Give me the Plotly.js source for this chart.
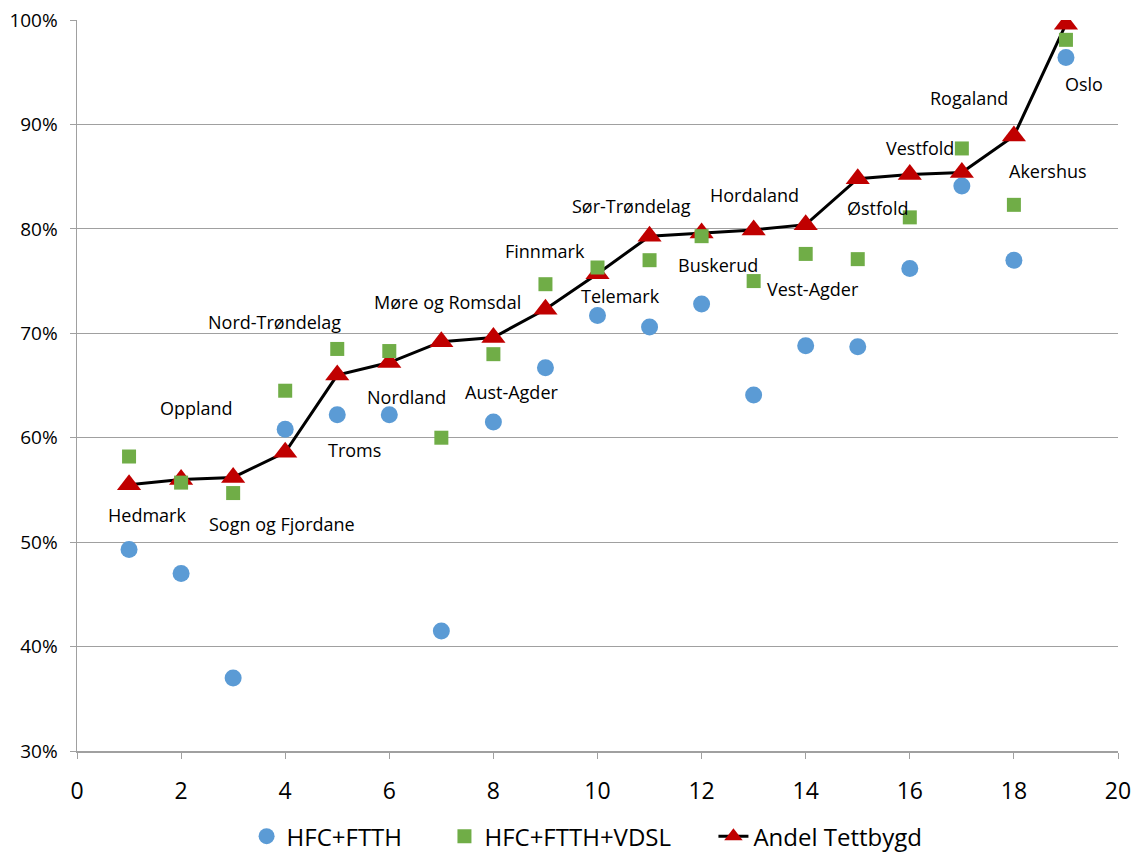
<!DOCTYPE html>
<html>
<head>
<meta charset="utf-8">
<script src="https://cdn.plot.ly/plotly-3.0.1.min.js"></script>
<style>
  html, body { margin: 0; padding: 0; background: #ffffff; }
  #chart { width: 1136px; height: 852px; }
</style>
</head>
<body>
<div id="chart"></div>
<script>
// County index (x) and coverage shares in percent
const counties = ["Hedmark", "Oppland", "Sogn og Fjordane", "Nord-Trøndelag", "Troms", "Nordland",
  "Møre og Romsdal", "Aust-Agder", "Finnmark", "Telemark", "Sør-Trøndelag", "Buskerud",
  "Hordaland", "Vest-Agder", "Østfold", "Vestfold", "Rogaland", "Akershus", "Oslo"];
const xIndex = [1, 2, 3, 4, 5, 6, 7, 8, 9, 10, 11, 12, 13, 14, 15, 16, 17, 18, 19];
const hfcFtth = [49.3, 47.0, 37.0, 60.8, 62.2, 62.2, 41.5, 61.5, 66.7, 71.7,
  70.6, 72.8, 64.1, 68.8, 68.7, 76.2, 84.1, 77.0, 96.4];
const hfcFtthVdsl = [58.2, 55.7, 54.7, 64.5, 68.5, 68.3, 60.0, 68.0, 74.7, 76.3,
  77.0, 79.3, 75.0, 77.6, 77.1, 81.1, 87.7, 82.3, 98.1];
const andelTettbygd = [55.5, 56.0, 56.2, 58.6, 66.0, 67.2, 69.2, 69.6, 72.3, 75.7,
  79.3, 79.6, 79.9, 80.4, 84.8, 85.2, 85.4, 88.9, 99.6];
const seriesNames = ["HFC+FTTH", "HFC+FTTH+VDSL", "Andel Tettbygd"];

// Pixel offsets of each county name relative to its point on the line
const labelShift = [
  [18, -30], [15, 71], [49, -47], [-11, 130], [17, -75], [17, -34], [6, 40],
  [18, -55], [0, 58], [23, -22], [-18, 30], [16, -32], [1, 35], [7, -64],
  [20, -29], [10, 27], [7, 74], [34, -35], [18, -60]
];

const FONT = "Open Sans, Lato, sans-serif";
const labelFont = { family: FONT, size: 18, color: "#000000" };

const annotations = counties.map((name, i) => ({
  x: xIndex[i], y: andelTettbygd[i] / 100, xref: "x", yref: "y",
  text: name, showarrow: false, font: labelFont,
  xshift: labelShift[i][0], yshift: labelShift[i][1],
  xanchor: "center", yanchor: "middle"
}));

// extra room after the first two legend entries
const pad = "\u00A0".repeat(6);

const traces = [
  {
    x: xIndex, y: hfcFtth.map(v => v / 100), name: seriesNames[0] + pad,
    type: "scatter", mode: "markers", legendrank: 1,
    marker: { symbol: "circle", size: 17, color: "#5b9bd5" },
    hoverinfo: "x+y"
  },
  {
    x: xIndex, y: andelTettbygd.map(v => v / 100), name: seriesNames[2],
    type: "scatter", mode: "lines+markers", legendrank: 3,
    line: { color: "#000000", width: 3 },
    marker: { symbol: "triangle-up", size: 21, color: "#c00000" },
    text: counties, hoverinfo: "text+y"
  },
  {
    x: xIndex, y: hfcFtthVdsl.map(v => v / 100), name: seriesNames[1] + pad,
    type: "scatter", mode: "markers", legendrank: 2,
    marker: { symbol: "square", size: 14, color: "#70ad47" },
    hoverinfo: "x+y"
  }
];

const layout = {
  width: 1136, height: 852,
  margin: { l: 77, r: 18, t: 20, b: 101, autoexpand: false },
  paper_bgcolor: "#ffffff", plot_bgcolor: "#ffffff",
  showlegend: true,
  legend: {
    orientation: "h", x: 0.49, xanchor: "center", y: -0.117, yanchor: "middle",
    font: { family: FONT, size: 24, color: "#000000" },
    itemwidth: 30, traceorder: "normal", bgcolor: "rgba(0,0,0,0)"
  },
  xaxis: {
    range: [0, 20], tickmode: "linear", tick0: 0, dtick: 2,
    showgrid: false, zeroline: false,
    showline: true, linecolor: "#a0a0a0", linewidth: 1.5,
    ticks: "outside", ticklen: 6, tickcolor: "#a0a0a0",
    ticklabelstandoff: 13,
    tickfont: { family: FONT, size: 23, color: "#000000" }
  },
  yaxis: {
    range: [0.3, 1.0], tickmode: "linear", tick0: 0.3, dtick: 0.1,
    tickformat: ".0%",
    showgrid: true, gridcolor: "#a0a0a0", gridwidth: 1.2, zeroline: false,
    showline: true, linecolor: "#a0a0a0", linewidth: 1.5,
    ticks: "outside", ticklen: 6, tickcolor: "#a0a0a0",
    ticklabelstandoff: 8,
    tickfont: { family: FONT, size: 19, color: "#000000" }
  },
  annotations: annotations
};

Plotly.newPlot("chart", traces, layout, { displayModeBar: false, staticPlot: true });
</script>
</body>
</html>
